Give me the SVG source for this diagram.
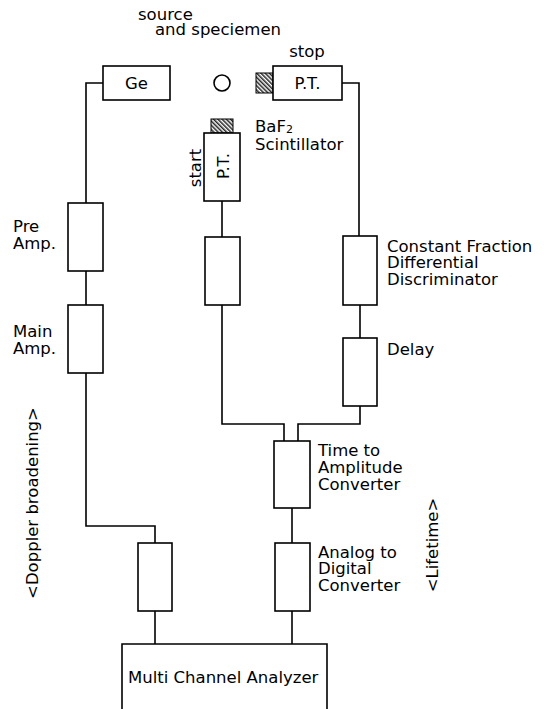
<svg xmlns="http://www.w3.org/2000/svg" width="547" height="709" viewBox="0 0 547 709">
<style>
  .box{fill:#fff;stroke:#000;stroke-width:1.6}
  .ln{fill:none;stroke:#000;stroke-width:1.6}
  text{font-family:"DejaVu Sans","Liberation Sans",sans-serif;font-size:16.5px;fill:#000}
  .c{text-anchor:middle}
  .hatch{fill:url(#hp);stroke:#000;stroke-width:1}
</style>
<defs>
  <pattern id="hp" patternUnits="userSpaceOnUse" width="3" height="3" patternTransform="rotate(-45)">
    <rect width="3" height="3" fill="#fff"/>
    <line x1="0.8" y1="0" x2="0.8" y2="3" stroke="#000" stroke-width="1.3"/>
  </pattern>
</defs>
<rect width="547" height="709" fill="#fff"/>

<g id="connectors">
  <path class="ln" d="M103 83 H86 V203"/>
  <path class="ln" d="M86 271 V305"/>
  <path class="ln" d="M86 373 V526 H155 V543"/>
  <path class="ln" d="M155 611 V644"/>
  <path class="ln" d="M342 83 H359 V236"/>
  <path class="ln" d="M360 305 V338"/>
  <path class="ln" d="M360 406 V424 H298 V441"/>
  <path class="ln" d="M222 201 V237"/>
  <path class="ln" d="M222 305 V424 H284 V441"/>
  <path class="ln" d="M292 508 V543"/>
  <path class="ln" d="M292 611 V644"/>
</g>

<g id="source-label">
  <text x="138" y="20">source</text>
  <text x="155" y="35">and speciemen</text>
</g>
<g id="source">
  <circle cx="222" cy="83" r="8" class="ln"/>
</g>
<g id="ge">
  <rect class="box" x="103" y="66" width="67" height="34"/>
  <text class="c" x="136.5" y="89">Ge</text>
</g>
<g id="pt-stop">
  <text class="c" x="307" y="57">stop</text>
  <rect class="hatch" x="256" y="73" width="17" height="20"/>
  <rect class="box" x="273" y="66" width="69" height="34"/>
  <text class="c" x="307.5" y="89">P.T.</text>
</g>
<g id="pt-start">
  <rect class="hatch" x="211" y="119" width="22" height="14"/>
  <rect class="box" x="204" y="133" width="36" height="68"/>
  <text class="c" transform="translate(229 166) rotate(-90)">P.T.</text>
  <text class="c" transform="translate(201 168) rotate(-90)">start</text>
  <text x="255" y="132">BaF<tspan font-size="11" dy="1">2</tspan></text>
  <text x="255" y="150">Scintillator</text>
</g>
<g id="preamp">
  <rect class="box" x="68" y="203" width="35" height="68"/>
  <text x="13" y="232">Pre</text>
  <text x="13" y="249">Amp.</text>
</g>
<g id="mainamp">
  <rect class="box" x="68" y="305" width="35" height="68"/>
  <text x="13" y="337">Main</text>
  <text x="13" y="354">Amp.</text>
</g>
<g id="start-cfd">
  <rect class="box" x="205" y="237" width="35" height="68"/>
</g>
<g id="cfdd">
  <rect class="box" x="343" y="236" width="34" height="69"/>
  <text x="387" y="252">Constant Fraction</text>
  <text x="387" y="268">Differential</text>
  <text x="387" y="285">Discriminator</text>
</g>
<g id="delay">
  <rect class="box" x="343" y="338" width="34" height="68"/>
  <text x="387" y="355">Delay</text>
</g>
<g id="tac">
  <rect class="box" x="274" y="441" width="36" height="67"/>
  <text x="318" y="456">Time to</text>
  <text x="318" y="473">Amplitude</text>
  <text x="318" y="490">Converter</text>
</g>
<g id="adc">
  <rect class="box" x="275" y="543" width="35" height="68"/>
  <text x="318" y="558">Analog to</text>
  <text x="318" y="574">Digital</text>
  <text x="318" y="591">Converter</text>
</g>
<g id="doppler-amp">
  <rect class="box" x="138" y="543" width="34" height="68"/>
</g>
<g id="mca">
  <path class="ln" d="M122 715 V644 H327 V715"/>
  <text x="128" y="683">Multi Channel Analyzer</text>
</g>
<g id="doppler-label">
  <text class="c" transform="translate(38 503) rotate(-90)">&lt;Doppler broadening&gt;</text>
</g>
<g id="lifetime-label">
  <text class="c" transform="translate(438 545) rotate(-90)">&lt;Lifetime&gt;</text>
</g>
</svg>
